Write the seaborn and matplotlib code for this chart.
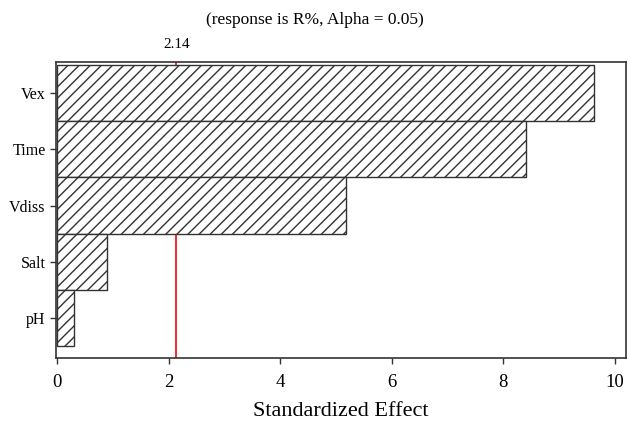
import matplotlib
matplotlib.use("Agg")
import matplotlib.pyplot as plt
import seaborn as sns
import pandas as pd

factors = ["Vex", "Time", "Vdiss", "Salt", "pH"]
effects = [9.62, 8.41, 5.19, 0.90, 0.30]
critical = 2.14
xticks = [0, 2, 4, 6, 8, 10]

sns.set_theme(style="ticks")
plt.rcParams['font.family'] = ['Liberation Serif', 'DejaVu Serif']
plt.rcParams['hatch.color'] = '#3a3a3a'
plt.rcParams['hatch.linewidth'] = 1.0
plt.rcParams['text.color'] = 'black'
plt.rcParams['xtick.labelcolor'] = 'black'
plt.rcParams['ytick.labelcolor'] = 'black'
plt.rcParams['axes.labelcolor'] = 'black'

df = pd.DataFrame({"factor": factors, "effect": effects})

fig = plt.figure(figsize=(6.29, 4.22), dpi=100)
ax = fig.add_axes([0.089, 0.152, 0.906, 0.701])

sns.barplot(data=df, x="effect", y="factor", orient="h", width=1.0,
            color="white", edgecolor="#333333", linewidth=1.0, ax=ax, zorder=2)
for p in ax.patches:
    p.set_hatch("///")
    p.set_facecolor("white")
    p.set_zorder(2)

ax.axvline(critical, color="red", linewidth=1.2, zorder=1)
ax.text(critical, 1.06, f"{critical:.2f}", transform=ax.get_xaxis_transform(),
        ha="center", va="center", fontsize=11, color="black")

ax.set_xlim(-0.02, 10.2)
ax.set_ylim(4.71, -0.554)
ax.set_xticks(xticks)
ax.set_xticklabels([str(t) for t in xticks], fontsize=13.5)
ax.tick_params(axis="y", labelsize=11.5, length=4, width=1, color="#333333", labelcolor="black")
ax.tick_params(axis="x", length=4, width=1, color="#333333", pad=7.5, labelcolor="black")
ax.set_ylabel("")
ax.set_xlabel("Standardized Effect", fontsize=16, labelpad=8, color="black")
for s in ax.spines.values():
    s.set_color("#333333")
    s.set_linewidth(1.2)
    s.set_visible(True)

fig.text(0.5, 0.953, "(response is R%, Alpha = 0.05)", ha="center", va="center",
         fontsize=12.5, color="black")

fig.savefig("out.png", dpi=100)
